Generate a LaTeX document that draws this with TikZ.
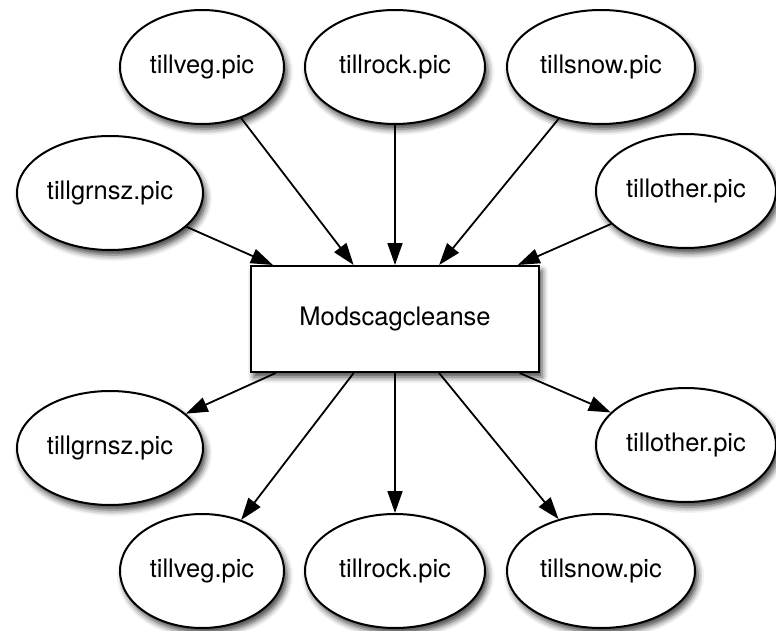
\documentclass[tikz,border=0pt]{standalone}
\usepackage{fontspec}
\setmainfont{TeX Gyre Heros}
\usetikzlibrary{shapes.geometric,arrows.meta,shadows.blur}

\begin{document}
\begin{tikzpicture}[x=1pt,y=1pt,
  softshadow/.style={blur shadow={shadow xshift=3pt,shadow yshift=-5pt,
    shadow blur radius=6pt,shadow opacity=75}},
  picfile/.style={ellipse,draw=black,line width=2pt,fill=white,softshadow,
    inner sep=0pt,minimum height=114pt,
    font=\fontsize{25.5}{30}\selectfont},
  procbox/.style={rectangle,draw=black,line width=2pt,fill=white,softshadow,
    minimum width=288pt,minimum height=106pt,
    font=\fontsize{25.5}{30}\selectfont},
  flow/.style={line width=1.8pt,-{Triangle[length=22pt,width=15pt]}}]

\useasboundingbox (0,0) rectangle (776,-631);

% inputs
\node[picfile,minimum width=164pt] (inveg)   at (202,-67)  {tillveg.pic};
\node[picfile,minimum width=180pt] (inrock)  at (395,-67)  {tillrock.pic};
\node[picfile,minimum width=188pt] (insnow)  at (601,-67)  {tillsnow.pic};
\node[picfile,minimum width=186pt] (ingrn)   at (110,-193) {tillgrnsz.pic};
\node[picfile,minimum width=180pt] (inother) at (686,-191) {tillother.pic};

% process
\node[procbox] (proc) at (395,-319) {Modscagcleanse};

% outputs
\node[picfile,minimum width=186pt] (outgrn)   at (110,-448) {tillgrnsz.pic};
\node[picfile,minimum width=180pt] (outother) at (686,-445) {tillother.pic};
\node[picfile,minimum width=164pt] (outveg)   at (202,-571) {tillveg.pic};
\node[picfile,minimum width=180pt] (outrock)  at (395,-571) {tillrock.pic};
\node[picfile,minimum width=188pt] (outsnow)  at (601,-571) {tillsnow.pic};

% connectors
\foreach \src in {ingrn,inveg,inrock,insnow,inother}
  \draw[flow] (\src) -- (proc);
\foreach \dst in {outgrn,outveg,outrock,outsnow,outother}
  \draw[flow] (proc) -- (\dst);
\end{tikzpicture}
\end{document}
